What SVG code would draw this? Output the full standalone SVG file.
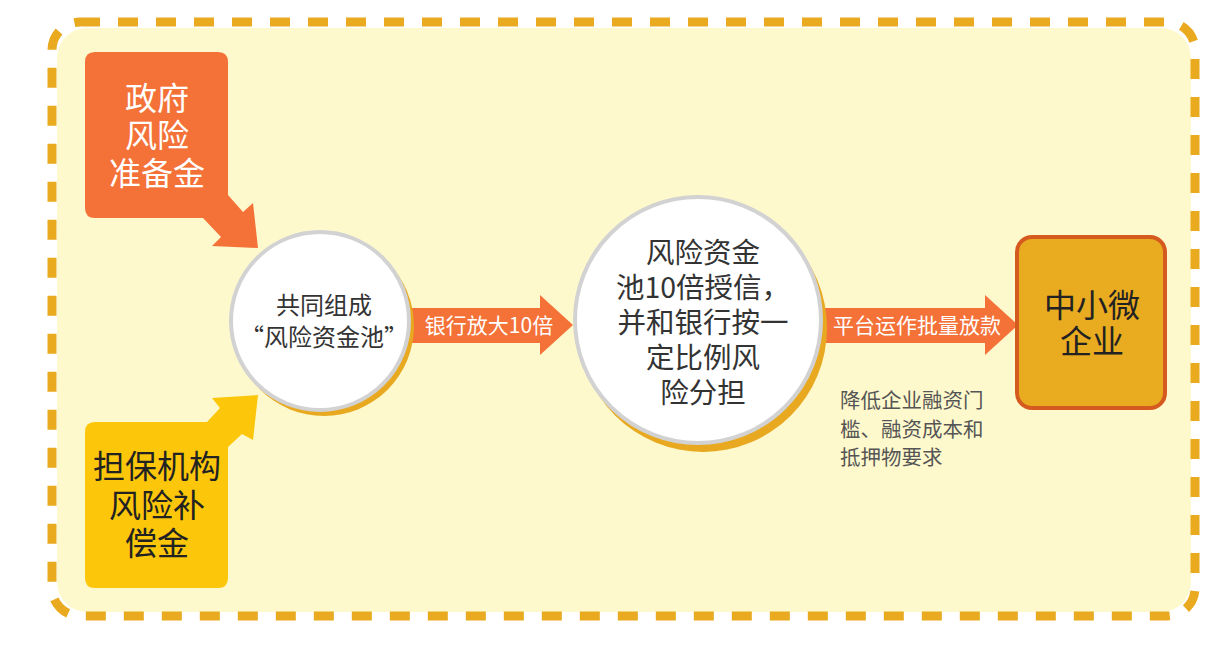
<svg xmlns="http://www.w3.org/2000/svg" width="1221" height="646" viewBox="0 0 1221 646">
<style>
text{font-family:"Noto Sans CJK SC","Liberation Sans",sans-serif;text-anchor:middle}
.w{fill:#fff}
.d{fill:#333}
.g{fill:#555;text-anchor:start}
.circ{fill:#fff;stroke:#d2d2d2;stroke-width:4}
.sh{fill:#e8a920}
.arr{fill:#f47138}
</style>
<rect x="0" y="0" width="1221" height="646" fill="#fff"/>
<g id="frame">
<rect x="57" y="28" width="1134" height="584" rx="30" fill="#fef9cc"/>
<rect x="52" y="22" width="1143" height="594" rx="28" fill="none" stroke="#e9aa1f" stroke-width="9" stroke-dasharray="20 18"/>
</g>
<g id="gov">
<path class="arr" d="M95,52 H218 Q228,52 228,62 V195 L243,212 L253,203 L258,248 L212,246 L221,237 L203,218 H95 Q85,218 85,208 V62 Q85,52 95,52 Z"/>
<text class="w" font-size="32" x="157" y="110">政府</text>
<text class="w" font-size="32" x="157" y="147">风险</text>
<text class="w" font-size="32" x="157" y="185">准备金</text>
</g>
<g id="guar">
<path fill="#fcc60a" d="M95,422 H207 L220,408 L212,398 L258,395 L253,440 L242,434 L228,447 V578 Q228,588 218,588 H95 Q85,588 85,578 V432 Q85,422 95,422 Z"/>
<text fill="#222" font-size="32" x="157" y="478">担保机构</text>
<text fill="#222" font-size="32" x="157" y="517">风险补</text>
<text fill="#222" font-size="32" x="157" y="555">偿金</text>
</g>
<g id="connectors">
<path class="arr" d="M405,308 H540 V295 L573,325 L540,355 V343 H405 Z"/>
<text class="w" font-size="21" x="489" y="333">银行放大10倍</text>
<path class="arr" d="M818,308 H985 V295 L1018,325 L985,355 V343 H818 Z"/>
<text class="w" font-size="21" x="917" y="333">平台运作批量放款</text>
</g>
<g id="pool">
<circle class="sh" cx="324" cy="326" r="90"/>
<circle class="circ" cx="320" cy="321" r="89"/>
<text class="d" font-size="24" x="324" y="314">共同组成</text>
<text class="d" font-size="24" x="324" y="346">“风险资金池”</text>
</g>
<g id="bank">
<circle class="sh" cx="703" cy="328" r="124"/>
<circle class="circ" cx="698" cy="320" r="123"/>
<text class="d" font-size="28.5" x="703" y="263">风险资金</text>
<text class="d" font-size="28.5" x="703" y="298">池10倍授信，</text>
<text class="d" font-size="28.5" x="703" y="333">并和银行按一</text>
<text class="d" font-size="28.5" x="703" y="368">定比例风</text>
<text class="d" font-size="28.5" x="703" y="403">险分担</text>
</g>
<g id="sme">
<rect x="1017" y="237" width="148" height="171" rx="15" fill="#e9ab20" stroke="#d45a1f" stroke-width="4"/>
<text fill="#222" font-size="32" x="1092" y="317">中小微</text>
<text fill="#222" font-size="32" x="1092" y="353">企业</text>
</g>
<g id="note">
<text class="g" font-size="20.5" x="840" y="408">降低企业融资门</text>
<text class="g" font-size="20.5" x="840" y="437">槛、融资成本和</text>
<text class="g" font-size="20.5" x="840" y="465">抵押物要求</text>
</g>
</svg>
